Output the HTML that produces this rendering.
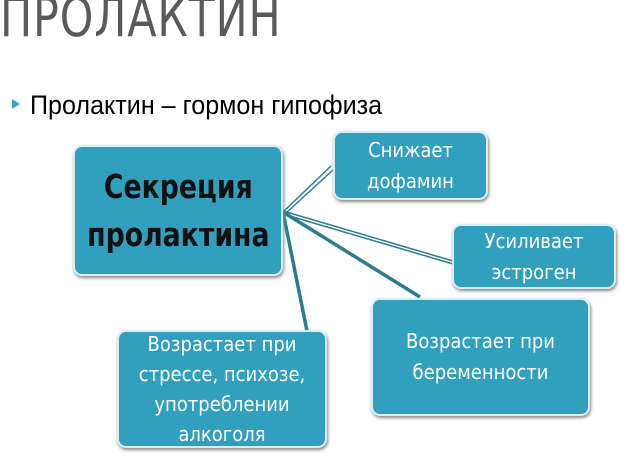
<!DOCTYPE html>
<html><head><meta charset="utf-8"><style>
body{margin:0;width:629px;height:468px;background:#fff;position:relative;overflow:hidden;font-family:"Liberation Sans","DejaVu Sans",sans-serif}
.t{position:absolute;left:0px;top:-14px;font-size:54px;color:#5a5a5a;letter-spacing:1px;font-family:"DejaVu Sans Condensed","DejaVu Sans",sans-serif;transform:scaleX(0.88);transform-origin:left}
.b{position:absolute;left:12px;top:99px;width:0;height:0;border-left:8px solid #3aa3c2;border-top:5px solid transparent;border-bottom:5px solid transparent}
.s{position:absolute;left:30px;top:90px;font-size:27px;color:#000;font-family:"Liberation Sans Narrow","Liberation Sans",sans-serif;transform:scaleX(0.93);transform-origin:left}
.box{position:absolute;background:#31a0bf;border:2px solid #d8eef4;border-radius:9px;box-shadow:1px 2px 3px #888;color:#fff;display:flex;align-items:center;justify-content:center;text-align:center;font-family:"DejaVu Sans Condensed","DejaVu Sans",sans-serif;font-size:20px;line-height:31px;box-sizing:border-box;white-space:nowrap}
</style></head><body>
<div class="t">ПРОЛАКТИН</div>
<div class="b"></div>
<div class="s">Пролактин – гормон гипофиза</div>
<svg width="629" height="468" style="position:absolute;left:0;top:0">
<g stroke="#2a7d8f" fill="none">
<line x1="283" y1="212" x2="331" y2="166" stroke-width="1.5"/>
<line x1="286" y1="213" x2="333" y2="170" stroke-width="1.5"/>
<line x1="283" y1="211" x2="453" y2="261" stroke-width="1.5"/>
<line x1="283" y1="214" x2="453" y2="264" stroke-width="1.5"/>
<line x1="283" y1="212" x2="420" y2="297" stroke-width="3.5"/>
<line x1="283" y1="212" x2="307" y2="331" stroke-width="3.5"/>
</g></svg>
<div class="box" style="left:73px;top:145px;width:210px;height:131px;color:#111;font-weight:bold;font-size:33px;line-height:48px"><span style="display:inline-block;transform:scaleX(0.9)">Секреция<br>пролактина</span></div>
<div class="box" style="left:333px;top:131px;width:155px;height:69px">Снижает<br>дофамин</div>
<div class="box" style="left:452px;top:224px;width:164px;height:65px">Усиливает<br>эстроген</div>
<div class="box" style="left:371px;top:298px;width:219px;height:118px;align-items:flex-start;padding-top:26px">Возрастает при<br>беременности</div>
<div class="box" style="left:117px;top:330px;width:210px;height:118px;line-height:30px">Возрастает при<br>стрессе, психозе,<br>употреблении<br>алкоголя</div>
</body></html>
